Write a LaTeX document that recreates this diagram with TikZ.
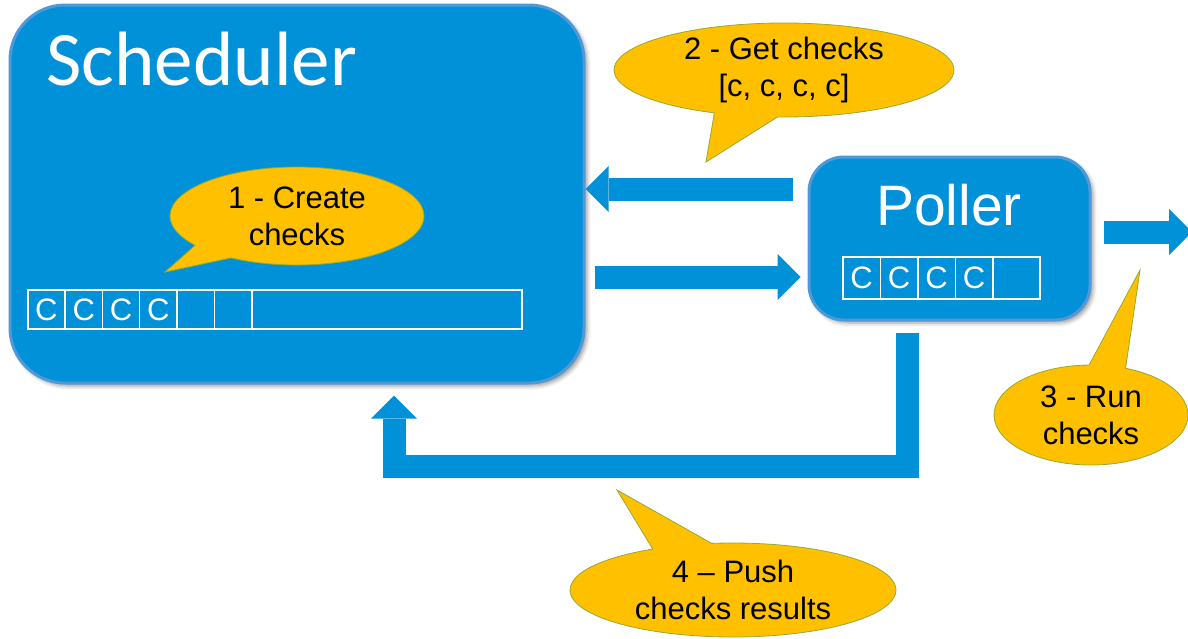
\documentclass[tikz,border=0pt]{standalone}
\usepackage{fontspec}
\setmainfont{Liberation Sans}
\newfontfamily\titlefont{Carlito}
\usetikzlibrary{arrows.meta,shapes.callouts,shadows.blur}

\definecolor{boxblue}{RGB}{0,145,217}
\definecolor{boxedge}{RGB}{80,152,215}
\definecolor{noteyellow}{RGB}{255,192,0}
\definecolor{noteedge}{RGB}{150,170,50}

\begin{document}
\begin{tikzpicture}[x=1pt, y=-1pt,
	box/.style={draw=boxedge, line width=3pt, fill=boxblue, inner sep=0pt,
		blur shadow={shadow xshift=3pt, shadow yshift=-3pt, shadow blur radius=4pt, shadow opacity=40}},
	cell/.style={draw=white, line width=1.5pt, text=white, inner sep=0pt, anchor=west,
		minimum height=39pt, font=\fontsize{31}{31}\selectfont},
	flow/.style={draw=boxblue, line width=23pt, -{Triangle[length=23pt, width=46pt, line width=0pt]}},
	note/.style={ellipse callout, callout pointer arc=22, draw=noteedge, line width=0.8pt,
		fill=noteyellow, inner sep=0pt, align=center, font=\fontsize{31}{37}\selectfont}]
\useasboundingbox (0,0) rectangle (1188,638);

% scheduler box
\node[box, minimum width=574pt, minimum height=378pt, rounded corners=55pt] (sched) at (297,194) {};
\node[anchor=base west, text=white, font=\titlefont\fontsize{77}{80}\selectfont] (schedname) at (43,85) {Scheduler};

% poller box
\node[box, minimum width=281pt, minimum height=163pt, rounded corners=35pt] (poller) at (949.5,238.5) {};
\node[anchor=base, text=white, font=\fontsize{57}{60}\selectfont] (pollername) at (949,225) {Poller};

% scheduler queue
\foreach \i/\t in {0/C,1/C,2/C,3/C,4/,5/}
	\node[cell, minimum width=37.3pt] (sq\i) at ({27+37.3*\i},309.5) {\t};
\node[cell, minimum width=270pt] (sqrest) at (251,309.5) {};

% poller queue
\foreach \i in {0,...,3}
	\node[cell, minimum width=37.5pt, minimum height=42pt] (pq\i) at ({842+37.5*\i},278) {C};
\node[cell, minimum width=47pt, minimum height=42pt] (pqrest) at (992,278) {};

% get checks
\draw[flow, shorten <=15pt] (poller.west |- 0,189) -- (sched.east |- 0,189);
\draw[flow, shorten <=9pt, shorten >=7pt] (sched.east |- 0,277) -- (poller.west |- 0,277);

% run checks
\coordinate (out) at (1192,232);
\draw[flow, shorten <=12pt] (poller.east |- 0,232) -- (out);

% push results
\coordinate (back) at (394,466.5);
\draw[flow, shorten <=11pt, shorten >=11pt] (poller.south -| 907.5,0) |- (back) -- (sched.south -| back);

% notes
\node[note, minimum width=254pt, minimum height=98pt, callout absolute pointer={(165,272)}] (note1) at (297,216) {1 - Create\\checks};
\node[note, minimum width=340pt, minimum height=94pt, callout absolute pointer={(706,162)}] (note2) at (784,70) {2 - Get checks\\{[c, c, c, c]}};
\node[note, minimum width=194pt, minimum height=100pt, callout absolute pointer={(1140,270)}] (note3) at (1091,415) {3 - Run\\checks};
\node[note, minimum width=326pt, minimum height=94pt, callout absolute pointer={(617,490)}] (note4) at (733,590) {4 – Push\\checks results};

\end{tikzpicture}
\end{document}
